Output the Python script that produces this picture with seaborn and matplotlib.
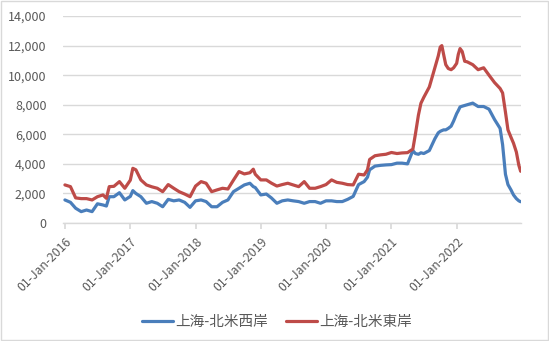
import matplotlib
matplotlib.use("Agg")
import matplotlib.pyplot as plt
import matplotlib.dates as mdates
from matplotlib.ticker import FuncFormatter, MultipleLocator
from matplotlib.patches import Rectangle
import seaborn as sns
import pandas as pd

dates = [
    "2016-01-01", "2016-02-01", "2016-03-01", "2016-04-01", "2016-05-01", "2016-06-01",
    "2016-07-01", "2016-08-01", "2016-08-20", "2016-09-05", "2016-10-01", "2016-11-01",
    "2016-12-01", "2017-01-01", "2017-01-15", "2017-02-01", "2017-03-01", "2017-04-01",
    "2017-05-01", "2017-06-01", "2017-07-01", "2017-08-01", "2017-09-01", "2017-10-01",
    "2017-11-01", "2017-12-01", "2018-01-01", "2018-02-01", "2018-03-01", "2018-04-01",
    "2018-05-01", "2018-06-01", "2018-07-01", "2018-08-01", "2018-09-01", "2018-10-01",
    "2018-11-01", "2018-11-20", "2018-12-01", "2019-01-01", "2019-02-01", "2019-03-01",
    "2019-04-01", "2019-05-01", "2019-06-01", "2019-07-01", "2019-08-01", "2019-09-01",
    "2019-10-01", "2019-11-01", "2019-12-01", "2020-01-01", "2020-02-01", "2020-03-01",
    "2020-04-01", "2020-05-01", "2020-06-01", "2020-07-01", "2020-08-01", "2020-08-20",
    "2020-09-01", "2020-10-01", "2020-11-01", "2020-12-01", "2021-01-01", "2021-02-01",
    "2021-03-01", "2021-04-01", "2021-05-01", "2021-05-15", "2021-06-01", "2021-06-15",
    "2021-07-01", "2021-08-01", "2021-09-01", "2021-09-20", "2021-10-01", "2021-10-10",
    "2021-10-20", "2021-11-01", "2021-11-15", "2021-12-01", "2021-12-15", "2022-01-01",
    "2022-01-10", "2022-01-20", "2022-02-01", "2022-02-15", "2022-03-01", "2022-04-01",
    "2022-05-01", "2022-06-01", "2022-07-01", "2022-08-01", "2022-09-01", "2022-09-15",
    "2022-10-01", "2022-10-15", "2022-11-01", "2022-11-15", "2022-12-01", "2022-12-15",
    "2022-12-25",
]

west_coast = [
    1560, 1400, 1000, 770, 880, 770,
    1300, 1220, 1150, 1780, 1780, 2050,
    1560, 1800, 2190, 2000, 1780, 1335,
    1450, 1335, 1100, 1600, 1500, 1560,
    1400, 1060, 1500, 1560, 1450, 1100,
    1100, 1400, 1560, 2120, 2350, 2576,
    2690, 2460, 2400, 1900, 1960, 1700,
    1335, 1500, 1560, 1500, 1450, 1335,
    1450, 1450, 1335, 1500, 1500, 1450,
    1450, 1600, 1800, 2600, 2800, 3100,
    3600, 3850, 3900, 3930, 3950, 4050,
    4050, 4000, 4900, 4700, 4650, 4750,
    4700, 4900, 5700, 6100, 6200, 6250,
    6300, 6300, 6400, 6550, 6900, 7400,
    7600, 7850, 7900, 7950, 8000, 8110,
    7880, 7880, 7700, 7000, 6400, 5300,
    3300, 2600, 2240, 1900, 1650, 1500,
    1440,
]

east_coast = [
    2576, 2460, 1700, 1650, 1650, 1560,
    1780, 1900, 1670, 2460, 2480, 2800,
    2350, 2900, 3700, 3600, 2915, 2576,
    2450, 2350, 2120, 2600, 2350, 2120,
    1960, 1780, 2500, 2800, 2690, 2120,
    2240, 2350, 2300, 2900, 3480, 3320,
    3400, 3640, 3300, 2915, 2915, 2700,
    2500, 2600, 2690, 2576, 2460, 2800,
    2350, 2350, 2460, 2600, 2915, 2750,
    2690, 2600, 2576, 3300, 3250, 3600,
    4300, 4550, 4610, 4650, 4770, 4700,
    4740, 4760, 5000, 6000, 7300, 8100,
    8500, 9200, 10500, 11300, 11900, 12000,
    11400, 10710, 10450, 10370, 10500, 10800,
    11400, 11800, 11600, 10940, 10900, 10710,
    10370, 10500, 10000, 9500, 9100, 8800,
    7500, 6300, 5800, 5400, 4800, 3900,
    3500,
]

series_names = ["上海-北米西岸", "上海-北米東岸"]
year_ticks = ["2016-01-01", "2017-01-01", "2018-01-01", "2019-01-01",
              "2020-01-01", "2021-01-01", "2022-01-01"]

df = pd.concat([
    pd.DataFrame({"date": pd.to_datetime(dates), "value": west_coast, "route": series_names[0]}),
    pd.DataFrame({"date": pd.to_datetime(dates), "value": east_coast, "route": series_names[1]}),
])

sns.set_theme(style="white")
plt.rcParams["font.family"] = ["Noto Sans CJK JP", "DejaVu Sans"]

fig = plt.figure(figsize=(5.49, 3.41), dpi=100)
ax = fig.add_axes([0.115, 0.346, 0.834, 0.607])

sns.lineplot(data=df, x="date", y="value", hue="route", hue_order=series_names,
             palette=["#4A7EBB", "#BE4B48"], linewidth=2.3, ax=ax, legend=True)

ax.set_ylim(0, 14000)
ax.yaxis.set_major_locator(MultipleLocator(2000))
ax.yaxis.set_major_formatter(FuncFormatter(lambda v, p: f"{int(v):,}"))
ax.set_xlim(pd.Timestamp("2015-12-22"), pd.Timestamp("2022-12-27"))
ax.set_xticks(pd.to_datetime(year_ticks))
ax.xaxis.set_major_formatter(mdates.DateFormatter("%d-%b-%Y"))

ax.grid(axis="y", color="#d9d9d9", linewidth=1)
ax.set_axisbelow(True)
for s in ["left", "right", "top"]:
    ax.spines[s].set_visible(False)
ax.spines["bottom"].set_color("#d9d9d9")
ax.spines["bottom"].set_linewidth(1)
ax.tick_params(axis="x", which="major", bottom=True, length=4, color="#d9d9d9",
               labelsize=8.8, labelcolor="#595959", pad=5)
ax.tick_params(axis="y", left=False, labelsize=9, labelcolor="#595959", pad=6)
for lbl in ax.get_xticklabels():
    lbl.set_rotation(45)
    lbl.set_ha("right")
    lbl.set_rotation_mode("anchor")
ax.set_xlabel("")
ax.set_ylabel("")

handles, labels = ax.get_legend_handles_labels()
ax.legend(handles, labels, loc="center", bbox_to_anchor=(0.505, 0.055),
          bbox_transform=fig.transFigure, ncol=2, frameon=False,
          fontsize=10.5, handlelength=2.1, columnspacing=1.2, handletextpad=0.2,
          labelcolor="#595959")

fig.add_artist(Rectangle((0.001, 0.002), 0.997, 0.995, transform=fig.transFigure,
                         fill=False, edgecolor="#d9d9d9", linewidth=1))

fig.savefig("out.png", dpi=100)
